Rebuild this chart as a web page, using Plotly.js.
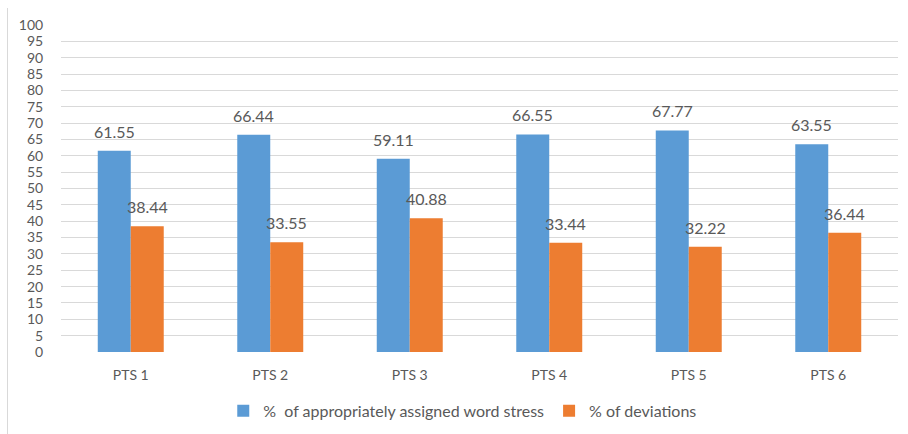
<!DOCTYPE html>
<html>
<head>
<meta charset="utf-8">
<script src="https://cdn.plot.ly/plotly-3.0.1.min.js"></script>
<style>
html,body{margin:0;padding:0;background:#fff;}
#wrap{position:relative;width:908px;height:434px;}
#border{position:absolute;left:7px;top:8px;width:0;height:426px;border-left:1px solid #d9d9d9;}
#chart{position:absolute;left:0;top:0;width:908px;height:434px;}
</style>
</head>
<body>
<div id="wrap"><div id="chart"></div><div id="border"></div></div>
<script>
const categories = ["PTS 1","PTS 2","PTS 3","PTS 4","PTS 5","PTS 6"];
const appropriate = [61.55, 66.44, 59.11, 66.55, 67.77, 63.55];
const deviations = [38.44, 33.55, 40.88, 33.44, 32.22, 36.44];
const seriesNames = ["%  of appropriately assigned word stress", "% of deviations"];
const yTicks = [0,5,10,15,20,25,30,35,40,45,50,55,60,65,70,75,80,85,90,95,100];

const fontFam = "Lato, 'Open Sans', sans-serif";
const txtColor = "#595959";
const W = 908, H = 434;
const margin = {l:61, r:10, t:25, b:82, autoexpand:false};
const bargap = 0.527;
const plotW = W - margin.l - margin.r;
const barW = plotW / categories.length * (1 - bargap) / 2;

const traces = [
  {type:"bar", x:categories, y:appropriate, name:seriesNames[0],
   marker:{color:"#5B9BD5"}},
  {type:"bar", x:categories, y:deviations, name:seriesNames[1],
   marker:{color:"#ED7D31"}}
];

const annotations = [];
[appropriate, deviations].forEach((series, si) => {
  series.forEach((v, i) => {
    annotations.push({
      x: categories[i], y: v, xref:"x", yref:"y",
      text: v.toFixed(2), showarrow:false,
      xanchor:"center", yanchor:"bottom",
      xshift: (si === 0 ? -1 : 1) * barW / 2, yshift: 8,
      font:{family:fontFam, size:16, color:txtColor}
    });
  });
});

const layout = {
  width:W, height:H,
  margin:margin,
  paper_bgcolor:"rgba(0,0,0,0)", plot_bgcolor:"#fff",
  font:{family:fontFam, size:14, color:txtColor},
  barmode:"group", bargap:bargap, bargroupgap:0,
  showlegend:true,
  legend:{orientation:"h", x:0.48, xanchor:"center", y:-0.18, yanchor:"middle",
          font:{family:fontFam,size:16,color:txtColor}, itemwidth:30, traceorder:"normal"},
  xaxis:{type:"category", showgrid:false, zeroline:false, showline:false,
         ticks:"outside", ticklen:10, tickcolor:"rgba(0,0,0,0)",
         tickfont:{family:fontFam,size:14,color:txtColor}},
  yaxis:{range:[0,100], tickvals:yTicks, showgrid:true, gridcolor:"#d9d9d9", gridwidth:1,
         zeroline:false, showline:false, ticks:"outside", ticklen:14, tickcolor:"rgba(0,0,0,0)",
         tickfont:{family:fontFam,size:14,color:txtColor}, fixedrange:true},
  annotations: annotations
};

Plotly.newPlot("chart", traces, layout, {displayModeBar:false, staticPlot:true});
</script>
</body>
</html>
